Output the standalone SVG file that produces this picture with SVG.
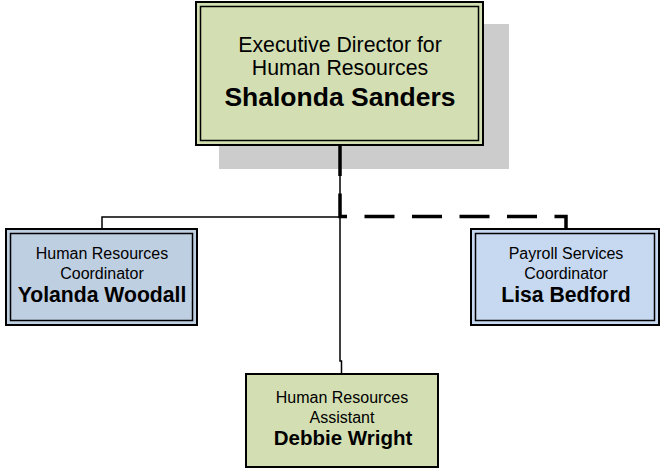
<svg xmlns="http://www.w3.org/2000/svg" width="664" height="469" viewBox="0 0 664 469">
<style>
.box{stroke:#000;stroke-width:2}
.inner{fill:none;stroke:#000;stroke-width:1.5}
.green{fill:#d3dfb3}
.blueL{fill:#bfcfe2}
.blueR{fill:#c6d9f0}
text{font-family:"Liberation Sans",Arial,sans-serif;text-anchor:middle;fill:#000}
.r{font-size:16px}
.b{font-size:21.2px;font-weight:bold}
.rt{font-size:21.3px}
.bt{font-size:26.5px;font-weight:bold}
.thin{fill:none;stroke:#000;stroke-width:1.5}
.dash{fill:none;stroke:#000;stroke-width:3.5;stroke-dasharray:30 17.5}
</style>
<rect x="219" y="24" width="290" height="145" fill="#cccccc"/>
<g id="connectors">
<path class="thin" d="M340,146 V361 H341.5 V374"/>
<path class="thin" d="M102,229 V217 H340"/>
<path class="dash" d="M340,146 V216.5 H566 V229"/>
</g>
<g id="n-sanders">
<rect class="box green" x="196" y="2" width="287" height="143"/>
<rect class="inner" x="200.5" y="6.5" width="278" height="134"/>
<text class="rt" x="340" y="52">Executive Director for</text>
<text class="rt" x="340" y="75">Human Resources</text>
<text class="bt" x="340" y="106">Shalonda Sanders</text>
</g>
<g id="n-woodall">
<rect class="box blueL" x="6" y="229" width="191" height="96"/>
<rect class="inner" x="10.5" y="233.5" width="182" height="87"/>
<text class="r" x="102" y="259">Human Resources</text>
<text class="r" x="102" y="279">Coordinator</text>
<text class="b" x="102" y="302">Yolanda Woodall</text>
</g>
<g id="n-bedford">
<rect class="box blueR" x="471" y="229" width="188" height="96"/>
<rect class="inner" x="475.5" y="233.5" width="179" height="87"/>
<text class="r" x="566" y="259">Payroll Services</text>
<text class="r" x="566" y="279">Coordinator</text>
<text class="b" x="566" y="302">Lisa Bedford</text>
</g>
<g id="n-wright">
<rect class="box green" x="246" y="374" width="192" height="93"/>
<text class="r" x="342" y="403">Human Resources</text>
<text class="r" x="342" y="423">Assistant</text>
<text class="b" x="343" y="445" style="font-size:20.5px">Debbie Wright</text>
</g>
</svg>
